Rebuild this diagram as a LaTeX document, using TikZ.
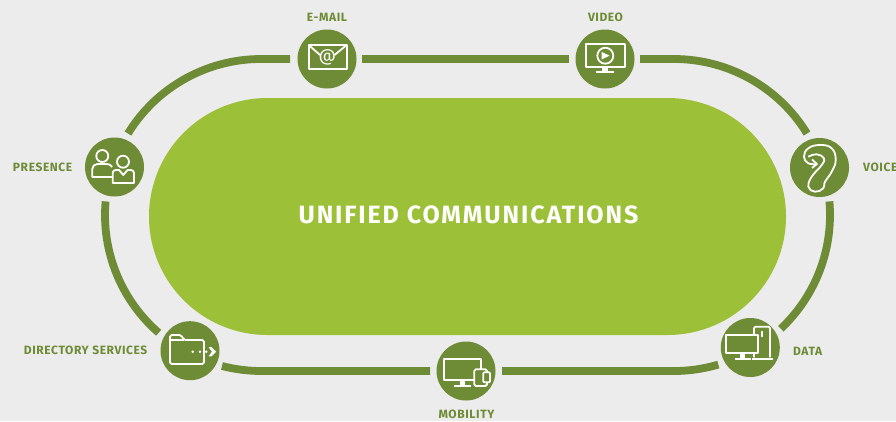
\documentclass[tikz,border=0pt]{standalone}
\usepackage{fontspec}
\setmainfont{Fira Sans}
\newfontfamily\lblfont{Fira Sans}[UprightFont={* Bold},LetterSpace=5]
\newfontfamily\ttlfont{Fira Sans}[UprightFont={* Bold},LetterSpace=7.5]
\definecolor{olive}{HTML}{6E8B35}
\definecolor{lime}{HTML}{9CC138}
\definecolor{paper}{HTML}{ECECEC}
\tikzset{
  track/.style={line width=7.8pt,draw=olive},
  hub/.style={circle,fill=olive,minimum size=59pt,inner sep=0pt},
  lbl/.style={text=olive,font=\lblfont\fontsize{12}{12}\selectfont,inner sep=0pt},
  ico/.style={draw=white,line width=1.8pt,line join=round},
  icof/.style={fill=white,draw=none},
  blank/.style={draw=white,line width=1.8pt,fill=olive,line join=round},
}
\begin{document}
\begin{tikzpicture}[x=1pt,y=-1pt]
\useasboundingbox (0,0) rectangle (896,421);
\fill[paper] (0,0) rectangle (896,421);
% centre
\fill[lime] (267.5,98) -- (667.5,98) arc[start angle=270,end angle=450,radius=118.5] -- (267.5,335) arc[start angle=90,end angle=270,radius=118.5] -- cycle;
\node[text=white,font=\ttlfont\fontsize{25}{25}\selectfont,inner sep=0pt] (title) at (468.5,215) {UNIFIED COMMUNICATIONS};
% track free ends
\coordinate (emailL) at (290,59);
\coordinate (emailR) at (362,59);
\coordinate (videoL) at (569,59);
\coordinate (videoR) at (640,59);
\coordinate (mobL) at (430,371);
\coordinate (mobR) at (502,371);
\coordinate (presB) at (105.6,201.4);
\coordinate (dirB) at (222,366);
\coordinate (voiceB) at (829.4,201.4);
% connectors
\draw[track] (emailL) -- (261,59) arc[start angle=270,end angle=211.5,radius=156];
\draw[track] (emailR) -- (videoL);
\draw[track] (videoR) -- (674,59) arc[start angle=270,end angle=328.5,radius=156];
\draw[track] (presB) arc[start angle=185,end angle=131,radius=156];
\draw[track] (dirB) arc[start angle=104.5,end angle=90,radius=156] -- (mobL);
\draw[track] (mobR) -- (674,371) arc[start angle=90,end angle=73.5,radius=156];
\draw[track] (voiceB) arc[start angle=-5,end angle=46.8,radius=156];
% hubs
\node[hub] (email) at (327,59) {};
\node[hub] (video) at (605,59) {};
\node[hub] (voice) at (819.5,167.5) {};
\node[hub] (presence) at (114.5,167) {};
\node[hub] (directory) at (190,350.7) {};
\node[hub] (mobility) at (466,371) {};
\node[hub] (data) at (750.3,347.5) {};
% labels
\node[lbl] (lemail) at (327,17) {E-MAIL};
\node[lbl] (lvideo) at (605.5,17) {VIDEO};
\node[lbl,anchor=west] (lvoice) at (863,167.5) {VOICE};
\node[lbl,anchor=east] (lpresence) at (72.5,167.5) {PRESENCE};
\node[lbl,anchor=east] (ldirectory) at (147.5,350) {DIRECTORY SERVICES};
\node[lbl] (lmobility) at (466.5,414) {MOBILITY};
\node[lbl,anchor=west] (ldata) at (793,351) {DATA};
% e-mail icon
\draw[ico] (308.7,45) rectangle (346.7,69);
\draw[ico] (308.7,45) -- (320,55);
\draw[ico] (346.7,45) -- (334.5,55);
\node[text=white,font=\fontsize{17}{17}\selectfont,inner sep=0pt] (at) at (327.3,57) {@};
% video icon
\draw[ico] (585.7,43.7) rectangle (625.3,67.3);
\draw[ico] (605.3,55.7) circle[radius=8];
\fill[icof] (601.7,52) -- (609.6,55.7) -- (601.7,59.4) -- cycle;
\fill[icof] (601.7,67.3) rectangle (608.3,71);
\fill[icof] (596.3,71) rectangle (614,72.8);
% voice icon
\draw[ico] plot[smooth,tension=0.75] coordinates {(816.7,164) (808.3,163.3) (804,156.7) (808.3,148.3) (820,145) (831.7,148.3) (835.7,160) (831.7,171.7) (825,181.7) (823.3,188.3) (815,191.7) (808.3,186.7) (811.7,176.7) (821.7,165) (824,158.3) (816.7,154.3) (808.3,156.7)};
\draw[ico] (812,159.5) -- (816.9,164) -- (812,168);
% presence icon
\draw[ico] (102.3,156) circle[radius=6];
\draw[ico] (112.5,177) -- (92.3,177) -- (92.3,169) arc[start angle=180,end angle=270,radius=5] -- (107,164) arc[start angle=270,end angle=330,radius=6];
\draw[ico] (123,161.7) circle[radius=6];
\draw[ico] (112.7,183) -- (134,183) -- (134,173) arc[start angle=0,end angle=-90,radius=3] -- (127.5,170) -- (123.3,175) -- (119,170) -- (115.7,170) arc[start angle=270,end angle=180,radius=3] -- cycle;
% directory icon
\draw[ico,rounded corners=1.6pt] (170,364) -- (170,335) -- (181,335) -- (184,340) -- (204,340) -- (204,364) -- cycle;
\draw[ico] (170,340) -- (184,340);
\fill[icof] (192.7,351.7) circle[radius=1.4];
\fill[icof] (200,351.7) circle[radius=1.4];
\fill[icof] (206.3,351.7) circle[radius=1.4];
\fill[icof] (208.5,347) -- (211.5,347) -- (216.2,351.7) -- (211.5,356.4) -- (208.5,356.4) -- (212,351.7) -- cycle;
% mobility icon
\draw[ico] (444,359.3) rectangle (481,380);
\fill[icof] (459.8,380) rectangle (465,384.6);
\fill[icof] (454.3,384.6) rectangle (470.7,386.8);
\draw[blank,rounded corners=1.5pt] (474.3,369.3) rectangle (487,386);
\draw[blank,rounded corners=1pt] (483.3,372.3) rectangle (490,382.3);
% data icon
\draw[ico,rounded corners=1.5pt] (754,357.3) -- (754,326.7) -- (770,326.7) -- (770,357.3);
\fill[icof] (761.3,331) rectangle (763,336.7);
\draw[ico] (751.7,358.7) -- (772.7,358.7);
\draw[blank] (725.7,334.7) rectangle (758,353.3);
\fill[icof] (740,353.3) rectangle (745,358);
\draw[ico] (735,358.7) -- (750.7,358.7);
\end{tikzpicture}
\end{document}
